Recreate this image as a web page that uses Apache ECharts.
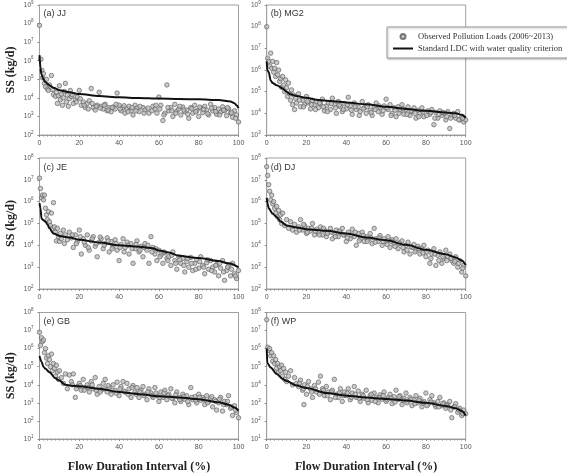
<!DOCTYPE html>
<html>
<head>
<meta charset="utf-8">
<title>SS load duration curves</title>
<script src="https://cdn.jsdelivr.net/npm/echarts@6.0.0/dist/echarts.min.js"></script>
</head>
<body style="margin:0">
<div id="container" style="width:567px;height:474px"></div>
<script>
// panel names and y-axis ranges (log10)
var panelLabels = ['(a) JJ', '(b) MG2', '(c) JE', '(d) DJ', '(e) GB', '(f) WP'];
var yMinValues = [1e2, 1e3, 1e2, 1e2, 1e1, 1e1];
var yMaxValues = [1e9, 1e9, 1e8, 1e8, 1e8, 1e8];
var xTicks = [0, 20, 40, 60, 80, 100];

var obsName = 'Observed Pollution Loads (2006~2013)';
var ldcName = 'Standard LDC with water quality criterion';

// standard LDC curves [flow duration %, load kg/d]
var ldcJJ = [[0,2e6],[0.5,4e5],[1,1.8e5],[2,1e5],[3,7e4],[5,4.8e4],[7,3.5e4],[10,2.6e4],[15,2e4],[20,1.6e4],[30,1.26e4],[40,1.07e4],[50,9.8e3],[60,9.1e3],[70,8.7e3],[80,8.3e3],[90,7.6e3],[96,6.3e3],[98,5.2e3],[99,4e3],[100,2.8e3]];
var ldcMG2 = [[0,2.5e6],[0.3,1e6],[1,8e5],[2,3.3e5],[3,2.5e5],[5,2e5],[8,1.4e5],[10,1e5],[12,7.6e4],[15,6.3e4],[20,5.2e4],[25,4.2e4],[30,3.8e4],[40,3.2e4],[50,2.6e4],[60,2e4],[70,1.6e4],[80,1.3e4],[90,1.1e4],[95,1e4],[98,8.5e3],[100,6.3e3]];
var ldcJE = [[0,8.5e5],[0.5,5e5],[1,1.7e5],[2,1.4e5],[3,1.2e5],[4,9e4],[5,6e4],[7,3.5e4],[10,2.7e4],[15,2.3e4],[20,1.8e4],[30,1.35e4],[40,1e4],[50,8.7e3],[57,7.4e3],[60,5.8e3],[65,4.7e3],[70,3.3e3],[80,2.6e3],[90,1.9e3],[95,1.5e3],[100,9.8e2]];
var ldcDJ = [[0,1.5e6],[0.5,8e5],[1,5e5],[3,2.8e5],[5,2e5],[7,1.25e5],[10,8e4],[15,6.6e4],[20,5.5e4],[30,4.6e4],[40,3.5e4],[50,2.3e4],[60,1.7e4],[70,1.05e4],[80,6.2e3],[90,3.9e3],[95,2.8e3],[98,2e3],[100,1.26e3]];
var ldcGB = [[0,3.9e5],[1,1.9e5],[2,1e5],[3,7.6e4],[5,5e4],[8,2.3e4],[10,1.7e4],[13,1e4],[16,8.9e3],[20,8.3e3],[30,6e3],[40,4e3],[50,3e3],[60,2.3e3],[70,2e3],[80,1.6e3],[90,1.07e3],[95,7.9e2],[98,5.6e2],[100,3.8e2]];
var ldcWP = [[0,1e6],[0.3,1.6e5],[2,9e4],[5,4e4],[8,2.1e4],[10,1.6e4],[15,9e3],[20,6.6e3],[30,3.5e3],[40,2.5e3],[50,2e3],[60,1.66e3],[70,1.35e3],[80,1e3],[90,6.8e2],[95,5e2],[98,3.5e2],[100,2e2]];

// observed loads [flow duration %, load kg/d]
var obsJJ = [[0,8e7],[0.7,1.2e6],[1.2,3e5],[1.5,1.2e5],[2,2e5],[2.5,6e4],[3,4e4],[3.5,1e5],[4,3e4],[4.5,2.5e4],[5,5e4],[6,1.6e5],[6.5,2.8e4],[7,1.5e4],[8,1.2e4],[8.5,2e4],[9,5e3],[9.5,1.3e4],[10,4.5e4],[10.5,8e3],[11,1.6e4],[11.5,4e3],[12,1e4],[12.5,2.2e4],[13,6e4],[13.5,6e3],[14,1.4e4],[14.5,3.5e3],[15,9e3],[15.5,2.5e4],[16,1.2e4],[17,5e3],[18,8e3],[19,1.1e4],[20,2.5e4],[21,4e3],[22,6e3],[23,3e3],[24,5e3],[25,7e3],[26,3.2e4],[27,3e3],[28,2.2e3],[29,4e3],[30,2e4],[31,3.5e3],[32,2.5e3],[33,4.5e3],[34,2e3],[35,3e3],[36,1.8e3],[37,3.2e3],[38,2.5e3],[39,1.8e4],[40,4e3],[41,2e3],[42,3e3],[43,1.5e3],[44,2.6e3],[45,3.5e3],[46,2e3],[47,1.2e3],[48,4e3],[49,2.8e3],[50,1.8e3],[52,3e3],[53,2.2e3],[55,1.5e3],[57,3.5e3],[58,2.5e3],[59,1.5e3],[60,1.1e4],[61,4e3],[62,6e2],[63,1.5e3],[64,5e4],[65,2e3],[66,3e3],[67,1e3],[68,4.5e3],[69,2e3],[70,2.5e3],[71,1.2e3],[72,3.2e3],[73,1.8e3],[74,2.2e3],[75,8e2],[76,3e3],[77,1.5e3],[78,4e3],[79,2e3],[80,1e3],[81,2.8e3],[82,1.6e3],[83,3.5e3],[84,2.2e3],[85,1.2e3],[86,4.5e3],[87,2e3],[88,3e3],[89,1.3e3],[90,2.5e3],[91,1.7e3],[92,3.3e3],[93,2e3],[94,1.1e3],[95,2.6e3],[96,1.5e3],[97,9e2],[98,2e3],[99,1.2e3],[100,5e2],
    [16.5,1.5e4],[18.5,6e3],[20.5,9e3],[22.5,4e3],[24.5,2.5e3],[26.5,5e3],[28.5,3.5e3],[30.5,2.8e3],[32.5,4e3],[34.5,2.2e3],[36.5,3e3],[38.5,4.5e3],[40.5,2.5e3],[42.5,3.8e3],[44.5,1.8e3],[46.5,3e3],[48.5,2e3],[50.5,3.5e3],[52.5,1.5e3],[54.5,2.8e3],[56.5,2e3],[58.5,4e3],[60.5,2.5e3],[62.5,1.2e3],[64.5,3e3],[66.5,2e3],[68.5,1.5e3],[70.5,3.5e3],[72.5,2.2e3],[74.5,1.3e3],[76.5,2.6e3],[78.5,1.8e3],[80.5,3.2e3],[82.5,2.4e3],[84.5,1.4e3],[86.5,2.8e3],[88.5,1.8e3],[90.5,1.2e3],[92.5,2.2e3],[94.5,3e3],[96.5,1.6e3],[98.5,8e2]];
var obsMG2 = [[0,1e8],[0.5,3.5e6],[1,2.5e6],[1.5,1.5e6],[2,6e6],[2.5,1.2e6],[3,2.5e6],[3.5,8e5],[4,1.2e6],[4.5,5e5],[5,2.2e6],[5.5,6e5],[6,1e6],[6.5,3e5],[7,4e5],[7.5,1.6e5],[8,5e5],[8.5,2e5],[9,1e5],[9.5,3.5e5],[10,1.5e5],[10.5,6e4],[11,2.5e5],[11.5,8e4],[12,4e4],[12.5,1.2e5],[13,2.5e4],[13.5,7e4],[14,1.5e4],[14.5,5e4],[15,3e4],[16,8e4],[17,2e4],[18,4e4],[19,2.5e4],[20,6e4],[21,3e4],[22,1.6e4],[23,4e4],[24,2.5e4],[25,3.5e4],[26,1.8e4],[27,2.8e4],[28,4.5e4],[29,1.3e4],[30,2.2e4],[31,3e4],[32,1.5e4],[33,5e4],[34,2.5e4],[35,1e4],[36,3.5e4],[37,2e4],[38,1.2e4],[39,2.8e4],[40,1.6e4],[41,5.5e4],[42,2.2e4],[43,9e3],[44,3e4],[45,1.5e4],[46,2e4],[47,1.2e4],[48,3.5e4],[49,1.8e4],[50,1e4],[51,2.5e4],[52,1.4e4],[53,8e3],[54,2e4],[55,3e4],[56,1.2e4],[57,1.8e4],[58,9e3],[59,2.2e4],[60,4.5e4],[61,1.5e4],[62,2.5e4],[63,1e4],[64,1.8e4],[65,7e3],[66,2e4],[67,1.3e4],[68,2.5e4],[69,9e3],[70,1.5e4],[71,2e4],[72,8e3],[73,1.2e4],[74,1.8e4],[75,6e3],[76,1.4e4],[77,1e4],[78,1.8e4],[79,7e3],[81,1.3e4],[82,9e3],[83,1.5e4],[84,3e3],[85,1.1e4],[86,6e3],[87,1.3e4],[88,8e3],[89,1e4],[90,5e3],[91,1.2e4],[92,2e3],[93,8e3],[94,1e4],[95,6e3],[96,1.2e4],[97,5e3],[98,7e3],[99,4e3],[100,5e3],
    [16.5,4e4],[18.5,2e4],[20.5,3.5e4],[22.5,2.5e4],[24.5,1.5e4],[26.5,3e4],[28.5,2e4],[30.5,1.2e4],[32.5,2.8e4],[34.5,1.8e4],[36.5,2.4e4],[38.5,1.5e4],[40.5,2.5e4],[42.5,1.4e4],[44.5,2e4],[46.5,8e3],[48.5,1.6e4],[50.5,2e4],[52.5,1.1e4],[54.5,1.5e4],[56.5,2.2e4],[58.5,1.3e4],[60.5,1.8e4],[62.5,8e3],[64.5,1.4e4],[66.5,1e4],[68.5,1.6e4],[70.5,9e3],[72.5,1.3e4],[74.5,1e4],[76.5,7e3],[78.5,1.2e4],[80.5,8e3],[82.5,1.1e4],[84.5,6e3],[86.5,9e3],[88.5,1.1e4],[90.5,7e3],[92.5,6e3],[94.5,8e3],[96.5,5e3],[98.5,6e3]];
var obsJE = [[0,1.2e7],[0.5,4e6],[1,1.5e6],[1.5,2e6],[2,1.2e6],[2.5,2e6],[3,5e5],[3.5,2.5e5],[4,1.5e5],[4.5,3.5e5],[5,1.2e5],[5.5,8e4],[6,3e5],[6.5,6e4],[7,9e5],[7.5,7e4],[8,4e4],[8.5,1.6e4],[9,6e4],[9.5,2.5e4],[10,1.5e4],[10.5,3.5e4],[11,2e4],[12,5e4],[12.5,1.2e4],[13,3e4],[14,1.8e4],[15,4e4],[16,2.2e4],[17,8e3],[18,3e4],[19,1.5e4],[20,5e4],[21,4e3],[22,2e4],[23,1e4],[24,3e4],[25,6e3],[26,1.6e4],[27,2.5e4],[28,9e3],[29,3e3],[30,1.4e4],[31,2e4],[32,7e3],[33,1.2e4],[34,2.2e4],[35,5e3],[36,1.5e4],[37,9e3],[38,1.8e4],[39,6e3],[40,2e3],[41,1.1e4],[42,2e4],[43,8e3],[44,1.4e4],[45,4e3],[46,1.2e4],[47,1.5e3],[48,7e3],[49,1.6e4],[50,5e3],[51,9e3],[52,3e3],[53,1.2e4],[54,6e3],[55,1.5e3],[56,2.5e4],[57,8e3],[58,4e3],[59,2e3],[60,6e3],[61,3.5e3],[62,1.5e3],[63,4.5e3],[64,2.5e3],[65,3e3],[66,1.2e3],[67,5e3],[68,2e3],[69,8e2],[70,3e3],[71,1.5e3],[72,2.5e3],[73,6e2],[74,1.8e3],[75,1e3],[76,2.8e3],[77,7e2],[78,1.5e3],[79,2.2e3],[80,9e2],[81,3e3],[82,1.2e3],[83,5e2],[84,1.6e3],[85,8e2],[86,2e3],[87,1e3],[88,6e2],[89,1.3e3],[90,4e2],[91,9e2],[92,2e3],[93,2.5e2],[94,7e2],[95,1.1e3],[96,4e2],[97,1.5e3],[98,5e2],[99,3e2],[100,7e2],
    [16.5,3e4],[18.5,1.2e4],[20.5,2.5e4],[22.5,1.4e4],[24.5,8e3],[26.5,2e4],[28.5,1.2e4],[30.5,2.4e4],[32.5,1e4],[34.5,1.6e4],[36.5,7e3],[38.5,1.2e4],[40.5,8e3],[42.5,5e3],[44.5,1e4],[46.5,7e3],[48.5,1.1e4],[50.5,6e3],[52.5,8e3],[54.5,1e4],[56.5,5e3],[58.5,7e3],[60.5,3e3],[62.5,5e3],[64.5,2e3],[66.5,3.5e3],[68.5,1.5e3],[70.5,2.2e3],[72.5,1.2e3],[74.5,2.5e3],[76.5,1.5e3],[78.5,8e2],[80.5,1.8e3],[82.5,1e3],[84.5,2.2e3],[86.5,7e2],[88.5,1.2e3],[90.5,1.5e3],[92.5,6e2],[94.5,1e3],[96.5,8e2],[98.5,4e2]];
var obsDJ = [[0,4e7],[0.5,1.6e7],[1,6e6],[1.5,3e6],[2,1.2e6],[2.5,2e6],[3,8e5],[3.5,1e6],[4,5e5],[4.5,3e5],[5,6e5],[5.5,2e5],[6,4e5],[6.5,1.5e5],[7,2.5e5],[7.5,1e5],[8,3e5],[9,8e4],[10,1.5e5],[11,6e4],[12,1.2e5],[13,5e4],[14,9e4],[15,4e4],[16,7e4],[17,1.5e5],[18,5e4],[19,8e4],[20,3.5e4],[21,6e4],[22,4.5e4],[23,1e5],[24,3e4],[25,5.5e4],[26,4e4],[27,7e4],[28,3e4],[29,5e4],[30,2.5e4],[31,4e4],[32,6e4],[33,2e4],[34,3.5e4],[35,5e4],[36,2.5e4],[37,4e4],[38,6e4],[39,3e4],[40,1.5e4],[41,4e4],[42,2e4],[43,5.5e4],[44,2.5e4],[45,1e4],[46,3.5e4],[47,2e4],[48,4e4],[49,1.5e4],[50,2.5e4],[51,1.8e4],[52,3.5e4],[53,1.2e4],[54,6e4],[55,2e4],[56,1.5e4],[57,2.8e4],[58,1e4],[59,2e4],[60,1.5e4],[61,2.5e4],[62,8e3],[63,1.8e4],[64,1.2e4],[65,2e4],[66,7e3],[67,1.3e4],[68,1.6e4],[69,5e3],[70,1e4],[71,1.4e4],[72,4e3],[73,8e3],[74,1.1e4],[75,6e3],[76,9e3],[77,4e3],[78,7e3],[79,1e4],[80,3e3],[81,6e3],[82,1.5e3],[83,4e3],[84,7e3],[85,1.2e3],[86,3.5e3],[87,5e3],[88,1.5e3],[89,2.5e3],[90,6e3],[91,3e3],[92,4e3],[93,2e3],[94,1.5e3],[95,3e3],[96,1e3],[97,2e3],[98,6e2],[99,1.2e3],[100,4e2],
    [16.5,5e4],[18.5,9e4],[20.5,4e4],[22.5,6e4],[24.5,4.5e4],[26.5,3e4],[28.5,6e4],[30.5,3.5e4],[32.5,4e4],[34.5,2.5e4],[36.5,4.5e4],[38.5,3e4],[40.5,2.2e4],[42.5,3e4],[44.5,4e4],[46.5,1.6e4],[48.5,2.8e4],[50.5,1.5e4],[52.5,2.2e4],[54.5,1.4e4],[56.5,2.2e4],[58.5,1.5e4],[60.5,1.1e4],[62.5,1.5e4],[64.5,9e3],[66.5,1.2e4],[68.5,8e3],[70.5,6e3],[72.5,9e3],[74.5,5e3],[76.5,7e3],[78.5,4.5e3],[80.5,5e3],[82.5,2.5e3],[84.5,4e3],[86.5,2e3],[88.5,3e3],[90.5,2e3],[92.5,2.5e3],[94.5,1.8e3],[96.5,1.5e3],[98.5,9e2]];
var obsGB = [[0,8e6],[0.5,1.5e6],[1,4e6],[1.5,2.5e6],[2,3e6],[2.5,6e5],[3,1e6],[3.5,3e5],[4,1.5e5],[4.5,4e5],[5,2.5e5],[5.5,1e5],[6,5e5],[6.5,6e4],[7,1.5e5],[7.5,8e4],[8,3e4],[8.5,1.2e5],[9,5e4],[9.5,2e4],[10,6e4],[11,2.5e4],[12,1.2e4],[13,4e4],[14,6e3],[15,3.5e4],[16,1.5e4],[17,4e4],[18,2e3],[19,8e3],[20,1.2e4],[21,5e3],[22,2e4],[23,7e3],[24,1e4],[25,4e3],[26,1.5e4],[27,6e3],[28,2.5e4],[29,3e3],[30,8e3],[31,5e3],[32,1.2e4],[33,2e4],[34,4e3],[35,7e3],[36,3e3],[37,1e4],[38,5e3],[39,1.4e4],[40,2.5e3],[41,8e3],[42,1.5e4],[43,4e3],[44,1.2e4],[45,6e3],[46,2e3],[47,9e3],[48,4e3],[49,7e3],[50,2e3],[51,5e3],[52,8e3],[53,3e3],[54,1.5e3],[55,6e3],[56,3.5e3],[57,2e3],[58,7e3],[59,2.5e3],[60,1.2e3],[61,4e3],[62,2e3],[63,5e3],[64,1.5e3],[65,3e3],[66,6e3],[67,1.8e3],[68,1e3],[69,4e3],[70,2e3],[71,1.2e3],[72,3e3],[73,1.6e3],[74,2.5e3],[75,8e2],[76,7e3],[77,1.5e3],[78,2.2e3],[79,1e3],[80,3e3],[81,1.4e3],[82,2e3],[83,8e2],[84,2.5e3],[85,1.2e3],[86,1.8e3],[87,6e2],[88,1.5e3],[89,4e2],[90,1e3],[91,2e3],[92,3.5e2],[93,1.2e3],[94,8e2],[95,2.5e3],[96,5e2],[97,2e2],[98,7e2],[99,3e2],[100,1.5e2],
    [16.5,1e4],[18.5,6e3],[20.5,9e3],[22.5,5e3],[24.5,7e3],[26.5,1e4],[28.5,5e3],[30.5,4e3],[32.5,6e3],[34.5,9e3],[36.5,5e3],[38.5,3.5e3],[40.5,6e3],[42.5,4.5e3],[44.5,3e3],[46.5,7e3],[48.5,3e3],[50.5,4e3],[52.5,2.5e3],[54.5,4e3],[56.5,2.5e3],[58.5,3.5e3],[60.5,2e3],[62.5,3.5e3],[64.5,2.5e3],[66.5,1.8e3],[68.5,2.8e3],[70.5,1.5e3],[72.5,2.2e3],[74.5,1.2e3],[76.5,2e3],[78.5,1.4e3],[80.5,2e3],[82.5,1.5e3],[84.5,1e3],[86.5,2.2e3],[88.5,1.2e3],[90.5,1.6e3],[92.5,8e2],[94.5,1.2e3],[96.5,6e2],[98.5,4e2]];
var obsWP = [[0,4e7],[0.5,1.2e6],[1,8e5],[1.5,1e6],[2,4e5],[2.5,6e5],[3,2e5],[3.5,4e5],[4,1.5e5],[4.5,2.5e5],[5,8e4],[5.5,1.5e5],[6,5e4],[6.5,1e5],[7,6e4],[7.5,1.2e5],[8,3e4],[8.5,8e4],[9,2e4],[9.5,5e4],[10,1.5e4],[11,3e4],[12,6e4],[13,1e4],[14,2.5e4],[15,1.2e4],[16,8e3],[17,1.8e4],[18,5e3],[18.7,8e2],[19,1e4],[20,3e3],[21,1.5e4],[22,6e3],[23,2e3],[24,9e3],[25,4e3],[26,1.4e4],[27,3e4],[28,6e3],[29,2.5e3],[30,8e3],[31,4e3],[32,1.5e3],[33,5e3],[34,2e4],[35,3e3],[36,2e3],[37,6e3],[38,1.2e3],[39,4e3],[40,2.5e3],[41,6e3],[42,1.5e3],[43,3.5e3],[44,8e3],[45,2e3],[46,4.5e3],[47,1.2e3],[48,3e3],[49,1.8e3],[50,5e3],[51,1e3],[52,2.5e3],[53,1.4e3],[54,3.5e3],[55,2e3],[56,1e3],[57,2.8e3],[58,1.6e3],[59,4e3],[60,1.2e3],[61,2e3],[62,3e3],[63,9e2],[64,2.2e3],[65,5e3],[66,1.5e3],[67,2.5e3],[68,8e2],[69,1.8e3],[70,3.5e3],[71,1.2e3],[72,2e3],[73,7e2],[74,1.5e3],[75,2.5e3],[76,1e3],[77,1.8e3],[78,6e2],[79,1.2e3],[80,3.5e3],[81,8e2],[82,1.5e3],[83,2.5e3],[84,1e3],[85,6e2],[86,1.2e3],[87,2e3],[88,7e2],[89,1e3],[90,5e2],[91,8e2],[92,1.2e3],[93,1.5e2],[94,6e2],[95,9e2],[96,3e2],[97,5e2],[98,2e2],[99,4e2],[100,2.5e2],
    [16.5,1.2e4],[18.5,6e3],[20.5,8e3],[22.5,4e3],[24.5,6e3],[26.5,3e3],[28.5,5e3],[30.5,2.5e3],[32.5,4e3],[34.5,2e3],[36.5,3.5e3],[38.5,2.5e3],[40.5,3.5e3],[42.5,2e3],[44.5,3e3],[46.5,1.8e3],[48.5,2.5e3],[50.5,1.5e3],[52.5,3e3],[54.5,1.2e3],[56.5,2e3],[58.5,2.5e3],[60.5,1.5e3],[62.5,1.8e3],[64.5,1.1e3],[66.5,2.2e3],[68.5,1.4e3],[70.5,1e3],[72.5,1.6e3],[74.5,9e2],[76.5,1.4e3],[78.5,1e3],[80.5,7e2],[82.5,1.1e3],[84.5,8e2],[86.5,6e2],[88.5,9e2],[90.5,7e2],[92.5,4e2],[94.5,6e2],[96.5,4e2],[98.5,2.5e2]];

var obsData = [obsJJ, obsMG2, obsJE, obsDJ, obsGB, obsWP];
var ldcData = [ldcJJ, ldcMG2, ldcJE, ldcDJ, ldcGB, ldcWP];

// layout of the 3x2 panel grid (pixels)
var colLeft = [39.5, 266.7];
var rowTop = [4, 158, 312.5];
var panelW = 199;
var panelH = 131;

var axisGrey = '#a0a0a0';
var labelGrey = '#555';

var dom = document.getElementById('container');
var myChart = echarts.init(dom);

var grids = [], xAxes = [], yAxes = [], series = [], titles = [];

for (var i = 0; i < 6; i++) {
    var col = i % 2, row = Math.floor(i / 2);
    var decades = Math.round(Math.log10(yMaxValues[i] / yMinValues[i]));
    grids.push({
        left: colLeft[col], top: rowTop[row], width: panelW, height: panelH,
        show: true, borderColor: axisGrey, borderWidth: 1
    });
    xAxes.push({
        gridIndex: i, type: 'value', min: xTicks[0], max: xTicks[xTicks.length - 1], interval: 20,
        axisLine: { lineStyle: { color: axisGrey } },
        axisTick: { length: 2, lineStyle: { color: '#888' } },
        minorTick: { show: true, splitNumber: 10, length: 1.5, lineStyle: { color: '#888' } },
        splitLine: { show: false },
        axisLabel: { fontSize: 7, color: labelGrey, margin: 5, fontFamily: 'Liberation Sans' },
        name: row === 2 ? 'Flow Duration Interval (%)' : '',
        nameLocation: 'middle', nameGap: 22,
        nameTextStyle: { fontFamily: 'Liberation Serif', fontWeight: 'bold', fontSize: 12, color: '#222' }
    });
    yAxes.push({
        gridIndex: i, type: 'log', logBase: 10,
        min: yMinValues[i], max: yMaxValues[i], splitNumber: decades,
        axisLine: { show: true, lineStyle: { color: axisGrey } },
        axisTick: { show: true, length: 2, lineStyle: { color: '#888' } },
        splitLine: { show: false },
        axisLabel: {
            margin: 6,
            formatter: function (v) {
                return '{b|10}{s|' + Math.round(Math.log10(v)) + '}';
            },
            rich: {
                b: { fontSize: 6.5, color: labelGrey, fontFamily: 'Liberation Sans' },
                s: { fontSize: 4.5, color: labelGrey, fontFamily: 'Liberation Sans', padding: [0, 0, 5, 0] }
            }
        },
        name: col === 0 ? 'SS (kg/d)' : '',
        nameLocation: 'middle', nameGap: 23,
        nameTextStyle: { fontFamily: 'Liberation Serif', fontWeight: 'bold', fontSize: 12, color: '#222' }
    });
    titles.push({
        text: panelLabels[i], left: colLeft[col] + 4, top: rowTop[row] + 5, padding: 0,
        textStyle: { fontSize: 9, fontWeight: 'normal', color: '#333', fontFamily: 'Liberation Sans' }
    });
    series.push({
        name: obsName, type: 'scatter', xAxisIndex: i, yAxisIndex: i,
        data: obsData[i], symbolSize: 4.5,
        itemStyle: { color: '#bdbdbd', borderColor: '#5a5a5a', borderWidth: 0.8 },
        z: 2
    });
    series.push({
        name: ldcName, type: 'line', xAxisIndex: i, yAxisIndex: i,
        data: ldcData[i], symbol: 'none', smooth: 0.3, smoothMonotone: 'x',
        lineStyle: { color: '#111', width: 2 },
        itemStyle: { color: '#111' },
        z: 3
    });
}

var option = {
    animation: false,
    backgroundColor: '#fff',
    title: titles,
    grid: grids,
    xAxis: xAxes,
    yAxis: yAxes,
    legend: {
        left: 387, top: 27, orient: 'vertical',
        data: [
            { name: obsName, icon: 'circle' },
            { name: ldcName, icon: 'path://M0,0 L20,0 L20,2 L0,2 Z' }
        ],
        itemWidth: 20, itemHeight: 5, itemGap: 3,
        padding: [5, 12, 5, 6],
        backgroundColor: '#fff', borderColor: '#999', borderWidth: 1,
        shadowColor: 'rgba(0,0,0,0.25)', shadowBlur: 2, shadowOffsetX: 1, shadowOffsetY: 1,
        textStyle: { fontFamily: 'Liberation Serif', fontSize: 8.5, color: '#333' },
        z: 10
    },
    series: series
};

myChart.setOption(option);
</script>
</body>
</html>
